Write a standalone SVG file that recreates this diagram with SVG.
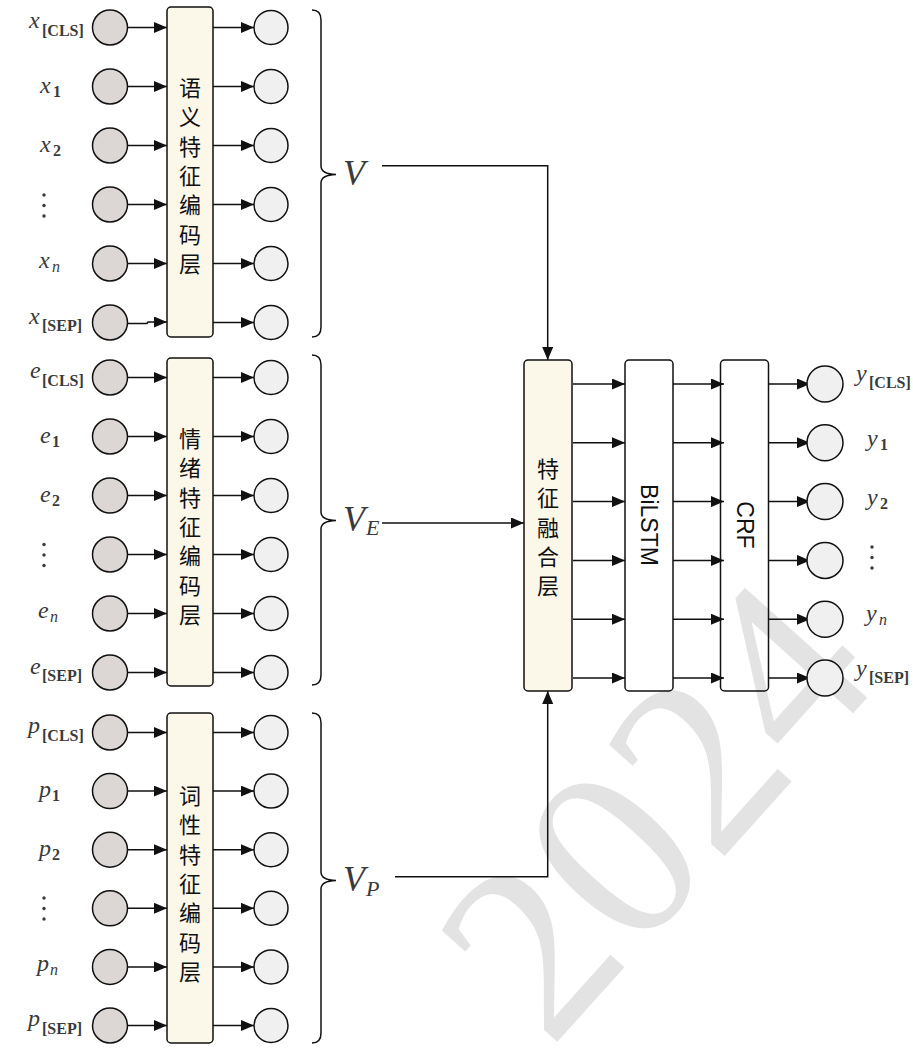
<svg xmlns="http://www.w3.org/2000/svg" width="913" height="1048" viewBox="0 0 913 1048">
<style>
.bg{fill:#fff}
.wm{font-family:"Liberation Serif",serif;font-size:250px;fill:#e3e3e3}
.enc{fill:#fbf7e9;stroke:#111;stroke-width:1.5}
.box{fill:none;stroke:#111;stroke-width:1.5}
.ci{fill:#dcd7d5;stroke:#111;stroke-width:1.5}
.co{fill:#f0f0f0;stroke:#111;stroke-width:1.5}
.ln{fill:none;stroke:#111;stroke-width:1.5}
.ar{fill:none;stroke:#111;stroke-width:1.5;marker-end:url(#a)}
.cjk{font-family:"Noto Sans CJK SC",sans-serif;font-size:22px;fill:#111;text-anchor:middle;dominant-baseline:central}
.lat{font-family:"Liberation Sans",sans-serif;font-size:23px;fill:#111;text-anchor:middle;dominant-baseline:central}
.lm{font-family:"Liberation Serif",serif;font-style:italic;font-size:24px;fill:#3a3a3a}
.ls{font-family:"Liberation Serif",serif;font-weight:bold;font-size:16px;fill:#3a3a3a}
.lnn{font-family:"Liberation Serif",serif;font-style:italic;font-size:16px;fill:#3a3a3a}
.vm{font-family:"Liberation Serif",serif;font-style:italic;font-size:36px;fill:#3a3a3a}
.vs{font-family:"Liberation Serif",serif;font-style:italic;font-size:22px;fill:#3a3a3a}
.dot{fill:#3a3a3a}
</style>
<defs>
<marker id="a" markerWidth="13" markerHeight="11" refX="13" refY="5.5" orient="auto" markerUnits="userSpaceOnUse"><path d="M0,0 L13,5.5 L0,11 z" fill="#111"/></marker>
</defs>
<rect class="bg" x="0" y="0" width="913" height="1048"/>
<text class="wm" transform="translate(550,1050) rotate(-48)">2024</text>

<g id="connectors">
<path class="ar" d="M127.5,27.5 H167"/>
<path class="ar" d="M127.5,86.5 H167"/>
<path class="ar" d="M127.5,145.5 H167"/>
<path class="ar" d="M127.5,204.5 H167"/>
<path class="ar" d="M127.5,263.5 H167"/>
<path class="ar" d="M127.5,323.5 H147 L148,322 H167"/>
<path class="ar" d="M213,27.5 H254"/>
<path class="ar" d="M213,86.5 H254"/>
<path class="ar" d="M213,145.5 H254"/>
<path class="ar" d="M213,204.5 H254"/>
<path class="ar" d="M213,263.5 H254"/>
<path class="ar" d="M213,322.5 H254"/>
<path class="ar" d="M127.5,377.5 H167"/>
<path class="ar" d="M127.5,436.5 H167"/>
<path class="ar" d="M127.5,495.5 H167"/>
<path class="ar" d="M127.5,554.5 H167"/>
<path class="ar" d="M127.5,613.5 H167"/>
<path class="ar" d="M127.5,672.5 H167"/>
<path class="ar" d="M213,377.5 H254"/>
<path class="ar" d="M213,436.5 H254"/>
<path class="ar" d="M213,495.5 H254"/>
<path class="ar" d="M213,554.5 H254"/>
<path class="ar" d="M213,613.5 H254"/>
<path class="ar" d="M213,672.5 H254"/>
<path class="ar" d="M127.5,732.5 H167"/>
<path class="ar" d="M127.5,791.1 H167"/>
<path class="ar" d="M127.5,849.7 H167"/>
<path class="ar" d="M127.5,908.3 H167"/>
<path class="ar" d="M127.5,966.9 H167"/>
<path class="ar" d="M127.5,1025.5 H167"/>
<path class="ar" d="M213,732.5 H254"/>
<path class="ar" d="M213,791.1 H254"/>
<path class="ar" d="M213,849.7 H254"/>
<path class="ar" d="M213,908.3 H254"/>
<path class="ar" d="M213,966.9 H254"/>
<path class="ar" d="M213,1025.5 H254"/>
<path class="ln" d="M312,10 Q321,10 321,20 V166 Q321,174 336,174.5 Q321,175 321,183 V327 Q321,337 312,337"/>
<path class="ln" d="M312,355 Q321,355 321,365 V512 Q321,520 336,520.5 Q321,521 321,529 V675 Q321,685 312,685"/>
<path class="ln" d="M312,713 Q321,713 321,723 V872 Q321,880 336,880.5 Q321,881 321,889 V1033 Q321,1043 312,1043"/>
<path class="ar" d="M382,165.7 H547.7 V360"/>
<path class="ar" d="M382,523 H524"/>
<path class="ar" d="M395,876.7 H547.7 V691"/>
<path class="ar" d="M573,384 H625"/>
<path class="ar" d="M573,442.8 H625"/>
<path class="ar" d="M573,501.6 H625"/>
<path class="ar" d="M573,560.4 H625"/>
<path class="ar" d="M573,619.2 H625"/>
<path class="ar" d="M573,678 H625"/>
<path class="ar" d="M673,384 H724"/>
<path class="ar" d="M673,442.8 H724"/>
<path class="ar" d="M673,501.6 H724"/>
<path class="ar" d="M673,560.4 H724"/>
<path class="ar" d="M673,619.2 H724"/>
<path class="ar" d="M673,678 H724"/>
<path class="ar" d="M768.5,384 H810"/>
<path class="ar" d="M768.5,442.8 H810"/>
<path class="ar" d="M768.5,501.6 H810"/>
<path class="ar" d="M768.5,560.4 H810"/>
<path class="ar" d="M768.5,619.2 H810"/>
<path class="ar" d="M768.5,678 H810"/>
</g>

<g id="input-x">
<circle class="ci" cx="110" cy="27.5" r="17.5"/>
<circle class="ci" cx="110" cy="86.5" r="17.5"/>
<circle class="ci" cx="110" cy="145.5" r="17.5"/>
<circle class="ci" cx="110" cy="204.5" r="17.5"/>
<circle class="ci" cx="110" cy="263.5" r="17.5"/>
<circle class="ci" cx="110" cy="322.5" r="17.5"/>
<text class="lm" x="29" y="28">x</text><text class="ls" x="42" y="36">[CLS]</text>
<text class="lm" x="40" y="93">x</text><text class="ls" x="53" y="97">1</text>
<text class="lm" x="40" y="152">x</text><text class="ls" x="53" y="156">2</text>
<circle class="dot" cx="44" cy="195" r="1.7"/><circle class="dot" cx="44" cy="205.5" r="1.7"/><circle class="dot" cx="44" cy="216" r="1.7"/>
<text class="lm" x="39" y="268">x</text><text class="lnn" x="52" y="272">n</text>
<text class="lm" x="29" y="324">x</text><text class="ls" x="42" y="331">[SEP]</text>
</g>
<g id="enc-semantic">
<rect class="enc" x="167" y="7" width="46" height="330" rx="4"/>
<text class="cjk" x="190" y="86">语</text>
<text class="cjk" x="190" y="115.3">义</text>
<text class="cjk" x="190" y="144.6">特</text>
<text class="cjk" x="190" y="173.9">征</text>
<text class="cjk" x="190" y="203.2">编</text>
<text class="cjk" x="190" y="232.5">码</text>
<text class="cjk" x="190" y="261.8">层</text>
</g>
<g id="out-x">
<circle class="co" cx="271" cy="27.5" r="17"/>
<circle class="co" cx="271" cy="86.5" r="17"/>
<circle class="co" cx="271" cy="145.5" r="17"/>
<circle class="co" cx="271" cy="204.5" r="17"/>
<circle class="co" cx="271" cy="263.5" r="17"/>
<circle class="co" cx="271" cy="322.5" r="17"/>
</g>
<g id="label-V"><text class="vm" x="343" y="185">V</text></g>

<g id="input-e">
<circle class="ci" cx="110" cy="377.5" r="17.5"/>
<circle class="ci" cx="110" cy="436.5" r="17.5"/>
<circle class="ci" cx="110" cy="495.5" r="17.5"/>
<circle class="ci" cx="110" cy="554.5" r="17.5"/>
<circle class="ci" cx="110" cy="613.5" r="17.5"/>
<circle class="ci" cx="110" cy="672.5" r="17.5"/>
<text class="lm" x="30" y="378">e</text><text class="ls" x="42" y="386">[CLS]</text>
<text class="lm" x="40" y="443">e</text><text class="ls" x="52" y="447">1</text>
<text class="lm" x="40" y="502">e</text><text class="ls" x="52" y="506">2</text>
<circle class="dot" cx="44" cy="544.5" r="1.7"/><circle class="dot" cx="44" cy="555" r="1.7"/><circle class="dot" cx="44" cy="565.5" r="1.7"/>
<text class="lm" x="38" y="618">e</text><text class="lnn" x="50" y="622">n</text>
<text class="lm" x="30" y="674">e</text><text class="ls" x="42" y="681">[SEP]</text>
</g>
<g id="enc-emotion">
<rect class="enc" x="167" y="358" width="46" height="328" rx="4"/>
<text class="cjk" x="190" y="437">情</text>
<text class="cjk" x="190" y="466.3">绪</text>
<text class="cjk" x="190" y="495.6">特</text>
<text class="cjk" x="190" y="524.9">征</text>
<text class="cjk" x="190" y="554.2">编</text>
<text class="cjk" x="190" y="583.5">码</text>
<text class="cjk" x="190" y="612.8">层</text>
</g>
<g id="out-e">
<circle class="co" cx="271" cy="377.5" r="17"/>
<circle class="co" cx="271" cy="436.5" r="17"/>
<circle class="co" cx="271" cy="495.5" r="17"/>
<circle class="co" cx="271" cy="554.5" r="17"/>
<circle class="co" cx="271" cy="613.5" r="17"/>
<circle class="co" cx="271" cy="672.5" r="17"/>
</g>
<g id="label-VE"><text class="vm" x="343" y="531">V</text><text class="vs" x="366" y="535">E</text></g>

<g id="input-p">
<circle class="ci" cx="110" cy="732.5" r="17.5"/>
<circle class="ci" cx="110" cy="791.1" r="17.5"/>
<circle class="ci" cx="110" cy="849.7" r="17.5"/>
<circle class="ci" cx="110" cy="908.3" r="17.5"/>
<circle class="ci" cx="110" cy="966.9" r="17.5"/>
<circle class="ci" cx="110" cy="1025.5" r="17.5"/>
<text class="lm" x="28" y="733">p</text><text class="ls" x="42" y="741">[CLS]</text>
<text class="lm" x="39" y="797">p</text><text class="ls" x="52" y="801">1</text>
<text class="lm" x="39" y="856">p</text><text class="ls" x="52" y="860">2</text>
<circle class="dot" cx="44" cy="898" r="1.7"/><circle class="dot" cx="44" cy="908.5" r="1.7"/><circle class="dot" cx="44" cy="919" r="1.7"/>
<text class="lm" x="37" y="971">p</text><text class="lnn" x="50" y="975">n</text>
<text class="lm" x="28" y="1026">p</text><text class="ls" x="42" y="1034">[SEP]</text>
</g>
<g id="enc-pos">
<rect class="enc" x="167" y="713" width="46" height="330" rx="4"/>
<text class="cjk" x="190" y="794">词</text>
<text class="cjk" x="190" y="823.3">性</text>
<text class="cjk" x="190" y="852.6">特</text>
<text class="cjk" x="190" y="881.9">征</text>
<text class="cjk" x="190" y="911.2">编</text>
<text class="cjk" x="190" y="940.5">码</text>
<text class="cjk" x="190" y="969.8">层</text>
</g>
<g id="out-p">
<circle class="co" cx="271" cy="732.5" r="17"/>
<circle class="co" cx="271" cy="791.1" r="17"/>
<circle class="co" cx="271" cy="849.7" r="17"/>
<circle class="co" cx="271" cy="908.3" r="17"/>
<circle class="co" cx="271" cy="966.9" r="17"/>
<circle class="co" cx="271" cy="1025.5" r="17"/>
</g>
<g id="label-VP"><text class="vm" x="343" y="891">V</text><text class="vs" x="366" y="896">P</text></g>

<g id="fusion">
<rect class="enc" x="524" y="360" width="48" height="331" rx="4"/>
<text class="cjk" x="548" y="467">特</text>
<text class="cjk" x="548" y="496.3">征</text>
<text class="cjk" x="548" y="525.6">融</text>
<text class="cjk" x="548" y="554.9">合</text>
<text class="cjk" x="548" y="584.2">层</text>
</g>
<g id="bilstm">
<rect class="box" x="625" y="360" width="48" height="331" rx="4"/>
<text class="lat" transform="translate(649,525) rotate(90)">BiLSTM</text>
</g>
<g id="crf">
<rect class="box" x="720.5" y="360" width="48" height="331" rx="4"/>
<text class="lat" transform="translate(744.5,525) rotate(90)">CRF</text>
</g>
<g id="output-y">
<circle class="co" cx="825" cy="384" r="18"/>
<circle class="co" cx="825" cy="442.8" r="18"/>
<circle class="co" cx="825" cy="501.6" r="18"/>
<circle class="co" cx="825" cy="560.4" r="18"/>
<circle class="co" cx="825" cy="619.2" r="18"/>
<circle class="co" cx="825" cy="678" r="18"/>
<text class="lm" x="856" y="381">y</text><text class="ls" x="869" y="388">[CLS]</text>
<text class="lm" x="867" y="446">y</text><text class="ls" x="880" y="450">1</text>
<text class="lm" x="867" y="505">y</text><text class="ls" x="880" y="509">2</text>
<circle class="dot" cx="872" cy="547" r="1.7"/><circle class="dot" cx="872" cy="557.5" r="1.7"/><circle class="dot" cx="872" cy="568" r="1.7"/>
<text class="lm" x="866" y="621">y</text><text class="lnn" x="879" y="625">n</text>
<text class="lm" x="856" y="676">y</text><text class="ls" x="869" y="683">[SEP]</text>
</g>
</svg>
